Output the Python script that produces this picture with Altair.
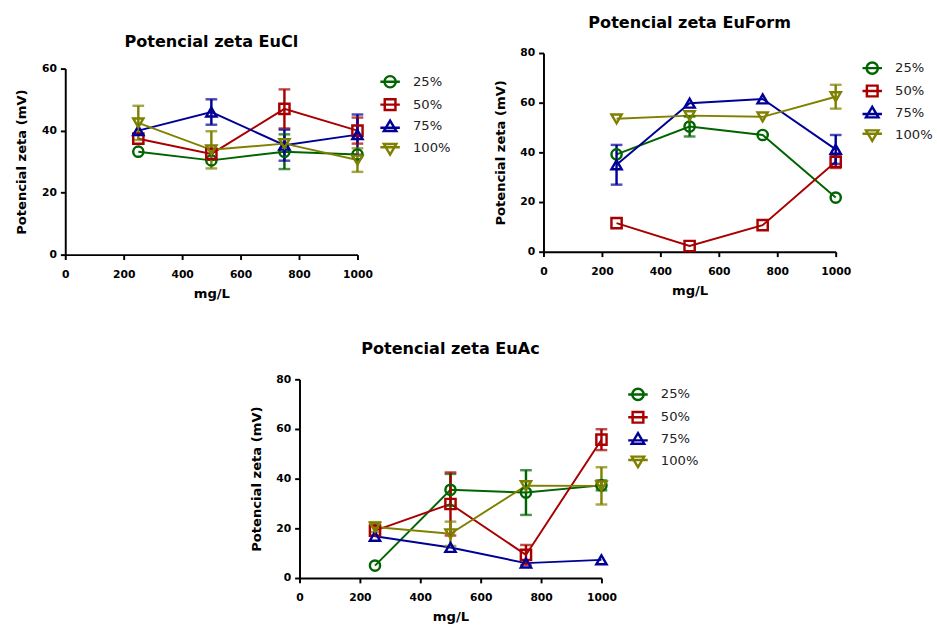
import altair as alt
import pandas as pd

# concentrations (mg/L) and formulation series
doses = [250, 500, 750, 1000]
series = ["25%", "50%", "75%", "100%"]
colors = ["#006400", "#a80000", "#000096", "#808000"]

# Potencial zeta EuCl: means and SD per series
eucl_25 = [33.2, 30.4, 33.2, 32.3]
eucl_25_sd = [0, 0, 5.6, 0]
eucl_50 = [37.4, 32.5, 47.0, 40.0]
eucl_50_sd = [0, 0, 6.3, 4.2]
eucl_75 = [40.0, 46.0, 35.3, 38.7]
eucl_75_sd = [0, 4.1, 5.0, 6.5]
eucl_100 = [42.5, 33.8, 35.8, 30.5]
eucl_100_sd = [5.5, 6.0, 0, 3.8]

# Potencial zeta EuForm
euform_25 = [39.2, 50.4, 47.0, 21.8]
euform_25_sd = [0, 4.0, 0, 0]
euform_50 = [11.5, 2.3, 10.7, 36.2]
euform_50_sd = [0, 0, 0, 2.5]
euform_75 = [35.0, 59.8, 61.5, 41.2]
euform_75_sd = [8.0, 0, 0, 5.8]
euform_100 = [53.5, 54.8, 54.3, 62.4]
euform_100_sd = [0, 0, 0, 4.8]

# Potencial zeta EuAc
euac_25 = [5.0, 35.5, 34.4, 37.3]
euac_25_sd = [0, 6.4, 9.0, 2.0]
euac_50 = [19.1, 29.8, 9.3, 55.7]
euac_50_sd = [0, 12.7, 4.0, 4.2]
euac_75 = [16.8, 12.3, 6.0, 7.3]
euac_75_sd = [0, 0, 0, 0]
euac_100 = [20.5, 17.8, 37.2, 37.1]
euac_100_sd = [2.0, 4.9, 0, 7.5]

x_ticks = [0, 200, 400, 600, 800, 1000]
y_title = "Potencial zeta (mV)"
x_title = "mg/L"

plain_shapes = ["circle", "square", "triangle-up", "triangle-down"]
# legend keys: a short line segment running through each marker
legend_shapes = [
    "M-1,0H1M0.58,0A0.58,0.58,0,1,1,-0.58,0A0.58,0.58,0,1,1,0.58,0",
    "M-1,0H1M-0.55,-0.55H0.55V0.55H-0.55Z",
    "M-1,0.12H1M0,-0.62L0.64,0.46H-0.64Z",
    "M-1,-0.12H1M0,0.62L0.64,-0.46H-0.64Z",
]

FONT = "DejaVu Sans"
LEGEND_GAP = 18


def frame(means, sds):
    rows = []
    for s, m, e in zip(series, means, sds):
        for d, v, sd in zip(doses, m, e):
            rows.append({"dose": d, "serie": s, "zeta": v, "sd": sd,
                         "lo": v - sd, "hi": v + sd})
    return pd.DataFrame(rows)


def panel(df, title, ymax, width, height, top_gap=0):
    """One zeta-potential panel; top_gap leaves empty space above the y range."""
    xscale = alt.Scale(domain=[0, 1000], nice=False, zero=True)
    if top_gap:
        yscale = alt.Scale(domain=[0, ymax], nice=False, range=[height, top_gap])
    else:
        yscale = alt.Scale(domain=[0, ymax], nice=False)
    xaxis = alt.Axis(values=x_ticks, title=x_title, format="d", labelFlush=False)
    yaxis = alt.Axis(values=list(range(0, ymax + 1, 20)), title=y_title,
                     format="d", labelFlush=False)

    def X():
        return alt.X("dose:Q", scale=xscale, axis=xaxis, title=x_title)

    def Y(field):
        return alt.Y(f"{field}:Q", scale=yscale, axis=yaxis, title=y_title)

    def C(legend=None):
        return alt.Color("serie:N", scale=alt.Scale(domain=series, range=colors),
                         legend=legend)

    if top_gap:
        leg = dict(title=None, orient="none", legendX=width + LEGEND_GAP,
                   legendY=top_gap - 2)
    else:
        leg = dict(title=None)

    base = alt.Chart(df)
    errs = base.transform_filter("datum.sd > 0")

    lines = base.mark_line(strokeWidth=2).encode(x=X(), y=Y("zeta"), color=C())
    bars = errs.mark_rule(strokeWidth=2.5).encode(
        x=X(), y=Y("lo"), y2="hi:Q", color=C())
    cap_lo = errs.mark_tick(orient="horizontal", size=12, thickness=2.5).encode(
        x=X(), y=Y("lo"), color=C())
    cap_hi = errs.mark_tick(orient="horizontal", size=12, thickness=2.5).encode(
        x=X(), y=Y("hi"), color=C())
    points = base.mark_point(filled=False, strokeWidth=2.5, size=110, opacity=1).encode(
        x=X(), y=Y("zeta"), color=C(),
        shape=alt.Shape("serie:N", scale=alt.Scale(domain=series, range=plain_shapes),
                        legend=None))
    key = base.transform_filter("datum.dose < 0").mark_point(
        filled=False, strokeWidth=2.5, opacity=1).encode(
        x=X(), y=Y("zeta"),
        color=C(alt.Legend(**leg)),
        shape=alt.Shape("serie:N", scale=alt.Scale(domain=series, range=legend_shapes),
                        legend=alt.Legend(**leg)))

    return alt.layer(lines, bars, cap_lo, cap_hi, points, key).resolve_scale(
        color="independent", shape="independent"
    ).properties(
        width=width, height=height,
        title=alt.TitleParams(text=title, anchor="middle", frame="group",
                              dy=max(top_gap - 3, 0)),
    )


p_cl = panel(frame([eucl_25, eucl_50, eucl_75, eucl_100],
                   [eucl_25_sd, eucl_50_sd, eucl_75_sd, eucl_100_sd]),
             "Potencial zeta EuCl", 60, 300, 207, top_gap=16)
p_form = panel(frame([euform_25, euform_50, euform_75, euform_100],
                     [euform_25_sd, euform_50_sd, euform_75_sd, euform_100_sd]),
               "Potencial zeta EuForm", 80, 300, 204)
p_ac = panel(frame([euac_25, euac_50, euac_75, euac_100],
                   [euac_25_sd, euac_50_sd, euac_75_sd, euac_100_sd]),
             "Potencial zeta EuAc", 80, 310, 204)

chart = alt.vconcat(
    alt.hconcat(p_cl, p_form, spacing=39),
    p_ac,
    spacing=42,
    center=True,
).properties(
    padding={"left": 15, "top": 7, "right": 0, "bottom": 0},
).configure_view(
    stroke=None
).configure_axis(
    grid=False,
    domainColor="black", domainWidth=2,
    tickColor="black", tickWidth=2, tickSize=5,
    labelFont=FONT, labelFontWeight="bold", labelFontSize=11, labelColor="black",
    titleFont=FONT, titleFontWeight="bold", titleFontSize=13.5, titleColor="black",
).configure_axisX(
    labelPadding=9, titlePadding=8,
).configure_axisY(
    labelPadding=4, titlePadding=13,
).configure_legend(
    orient="right", offset=LEGEND_GAP, padding=4,
    symbolSize=400, symbolStrokeWidth=2.5, symbolType="circle",
    labelFont=FONT, labelFontSize=13.5, labelColor="#222222", labelOffset=12,
    rowPadding=0.5,
).configure_title(
    font=FONT, fontWeight="bold", fontSize=16.5, color="black", offset=16,
)

chart.save("out.html", embed_options={"renderer": "svg", "actions": False})
